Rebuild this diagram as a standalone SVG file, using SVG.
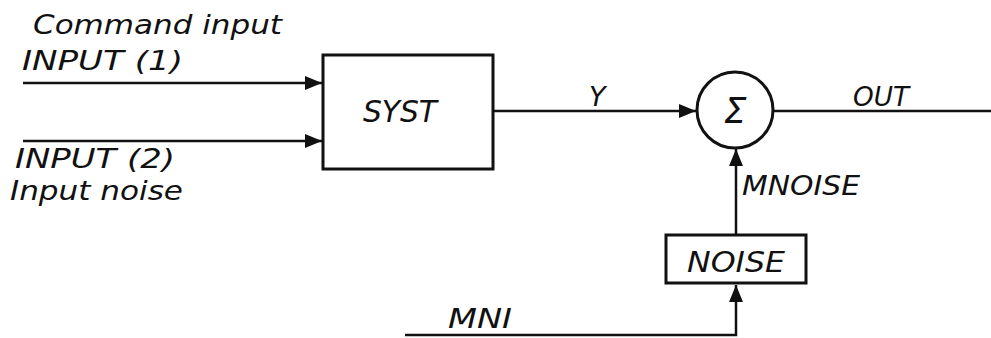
<svg xmlns="http://www.w3.org/2000/svg" width="991" height="338" viewBox="0 0 991 338">
<defs>
<marker id="arr" markerUnits="userSpaceOnUse" markerWidth="18" markerHeight="16" refX="17" refY="8" orient="auto">
<path d="M0,1 L17,8 L0,15 Z" fill="#111"/>
</marker>
<style>
.t{font-family:"DejaVu Sans","Liberation Sans",sans-serif;font-style:italic;fill:#111}
.w{stroke:#111;stroke-width:2.5;fill:none}
.b{stroke:#111;stroke-width:3;fill:#fff}
</style>
</defs>
<rect width="991" height="338" fill="#fff"/>
<g id="connectors">
<line class="w" x1="23" y1="83" x2="322" y2="83" marker-end="url(#arr)"/>
<line class="w" x1="23" y1="141" x2="322" y2="141" marker-end="url(#arr)"/>
<line class="w" x1="493" y1="111" x2="696" y2="111" marker-end="url(#arr)"/>
<line class="w" x1="774" y1="111" x2="991" y2="111"/>
<line class="w" x1="736" y1="235" x2="736" y2="149" marker-end="url(#arr)"/>
<polyline class="w" points="405,335 736,335 736,285" marker-end="url(#arr)"/>
<text class="t" x="22" y="70" font-size="27" textLength="161" lengthAdjust="spacingAndGlyphs">INPUT (1)</text>
<text class="t" x="15" y="168" font-size="27" textLength="160" lengthAdjust="spacingAndGlyphs">INPUT (2)</text>
<text class="t" x="33" y="34" font-size="27" textLength="249" lengthAdjust="spacingAndGlyphs">Command input</text>
<text class="t" x="10" y="200" font-size="27" textLength="173" lengthAdjust="spacingAndGlyphs">Input noise</text>
<text class="t" x="589" y="106" font-size="27">Y</text>
<text class="t" x="853" y="106" font-size="27" textLength="56" lengthAdjust="spacingAndGlyphs">OUT</text>
<text class="t" x="742" y="195" font-size="27" textLength="118" lengthAdjust="spacingAndGlyphs">MNOISE</text>
<text class="t" x="448" y="328" font-size="27" textLength="64" lengthAdjust="spacingAndGlyphs">MNI</text>
</g>
<g id="syst">
<rect class="b" x="323" y="55" width="170" height="114"/>
<text class="t" x="400" y="122" font-size="30" text-anchor="middle" textLength="74" lengthAdjust="spacingAndGlyphs">SYST</text>
</g>
<g id="sum">
<circle class="b" cx="735" cy="110" r="38"/>
<text class="t" x="735" y="123" font-size="36" text-anchor="middle" font-style="normal">Σ</text>
</g>
<g id="noise">
<rect class="b" x="666" y="235" width="140" height="48"/>
<text class="t" x="736" y="272" font-size="28" text-anchor="middle" textLength="98" lengthAdjust="spacingAndGlyphs">NOISE</text>
</g>
</svg>
